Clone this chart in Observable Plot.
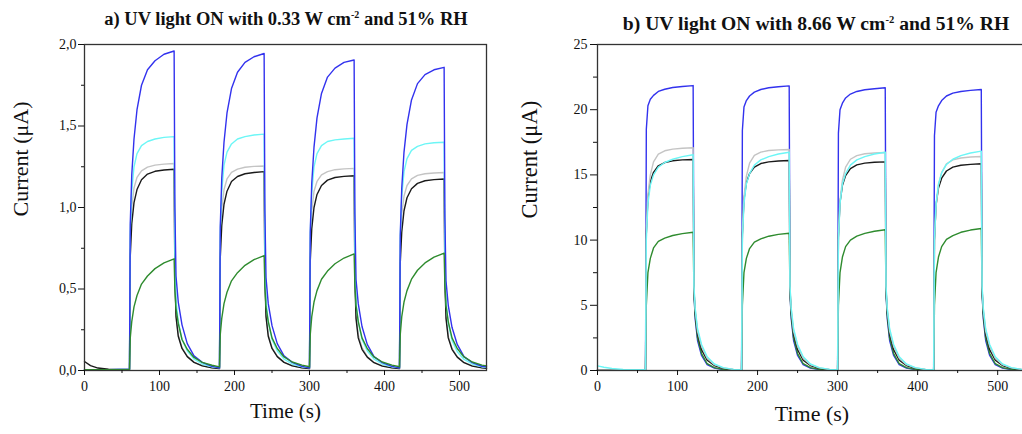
<!DOCTYPE html>
<html><head><meta charset="utf-8">
<script src="https://cdn.jsdelivr.net/npm/d3@7"></script>
<script src="https://cdn.jsdelivr.net/npm/@observablehq/plot@0.6"></script>
<style>
body{margin:0;overflow:hidden;background:#fff;}
#wrap{position:relative;width:1022px;height:434px;overflow:hidden;font-family:"Liberation Serif","Times New Roman",serif;color:#111;}
.panel{position:absolute;top:0;height:434px;}
.panel svg{max-width:none !important;}
.panel svg text{font-family:"Liberation Serif","Times New Roman",serif !important;}
.title{position:absolute;font-weight:bold;font-size:18.5px;line-height:1;white-space:nowrap;}
.sup{font-size:10px;position:relative;top:-7px;}
</style></head>
<body><div id="wrap"></div>
<script>
// time axis (s), shared by both panels
const time = [0, 8, 18, 32,
 60, 61, 63, 66, 70, 76, 84, 94, 106, 119.5, 120.5, 122, 125, 130, 137, 146, 157, 170,
 180, 181, 183, 186, 190, 196, 204, 214, 226, 239.5, 240.5, 242, 245, 250, 257, 266, 277, 290,
 300, 301, 303, 306, 310, 316, 324, 334, 346, 359.5, 360.5, 362, 365, 370, 377, 386, 397, 410,
 420, 421, 423, 426, 430, 436, 444, 454, 466, 479.5, 480.5, 482, 485, 490, 497, 506, 517, 530,
 536];

// Panel a (0.33 W cm-2), current in µA
const blueA = [0.005, 0.005, 0.005, 0.005,
 0.008, 0.9, 1.2, 1.42, 1.6, 1.75, 1.845, 1.9, 1.94, 1.96, 1.0, 0.58, 0.42, 0.28, 0.165, 0.09, 0.05, 0.025,
 0.016, 0.88, 1.18, 1.4, 1.58, 1.73, 1.83, 1.89, 1.925, 1.945, 0.98, 0.57, 0.41, 0.275, 0.165, 0.09, 0.05, 0.025,
 0.016, 0.85, 1.15, 1.37, 1.55, 1.7, 1.8, 1.855, 1.89, 1.905, 0.96, 0.56, 0.41, 0.27, 0.16, 0.085, 0.048, 0.025,
 0.016, 0.83, 1.12, 1.34, 1.51, 1.66, 1.76, 1.815, 1.845, 1.86, 0.94, 0.55, 0.4, 0.265, 0.16, 0.085, 0.048, 0.026,
 0.022];
const cyanA = [0.005, 0.005, 0.005, 0.005,
 0.008, 0.85, 1.1, 1.25, 1.33, 1.38, 1.405, 1.42, 1.43, 1.435, 0.72, 0.43, 0.3, 0.19, 0.12, 0.07, 0.04, 0.022,
 0.016, 0.85, 1.1, 1.26, 1.34, 1.39, 1.42, 1.435, 1.445, 1.45, 0.72, 0.43, 0.3, 0.19, 0.12, 0.07, 0.04, 0.022,
 0.016, 0.84, 1.09, 1.25, 1.33, 1.38, 1.405, 1.415, 1.42, 1.425, 0.7, 0.42, 0.3, 0.19, 0.12, 0.07, 0.04, 0.022,
 0.016, 0.82, 1.07, 1.22, 1.3, 1.35, 1.375, 1.39, 1.397, 1.40, 0.7, 0.42, 0.29, 0.185, 0.115, 0.068, 0.04, 0.022,
 0.02];
const grayA = [0.005, 0.005, 0.005, 0.005,
 0.006, 0.8, 1.0, 1.12, 1.185, 1.225, 1.248, 1.26, 1.266, 1.27, 0.6, 0.35, 0.22, 0.14, 0.088, 0.052, 0.03, 0.017,
 0.012, 0.79, 0.99, 1.11, 1.175, 1.215, 1.235, 1.247, 1.252, 1.255, 0.6, 0.35, 0.22, 0.14, 0.088, 0.052, 0.03, 0.017,
 0.012, 0.78, 0.98, 1.1, 1.16, 1.2, 1.22, 1.232, 1.237, 1.24, 0.59, 0.34, 0.22, 0.14, 0.086, 0.05, 0.03, 0.017,
 0.012, 0.76, 0.96, 1.07, 1.135, 1.175, 1.197, 1.207, 1.212, 1.215, 0.58, 0.34, 0.21, 0.135, 0.085, 0.05, 0.03, 0.017,
 0.014];
const blackA = [0.055, 0.03, 0.015, 0.008,
 0.006, 0.7, 0.9, 1.03, 1.11, 1.17, 1.205, 1.222, 1.23, 1.235, 0.58, 0.33, 0.21, 0.135, 0.085, 0.05, 0.028, 0.016,
 0.012, 0.69, 0.89, 1.02, 1.1, 1.16, 1.19, 1.207, 1.215, 1.22, 0.58, 0.33, 0.21, 0.135, 0.085, 0.05, 0.028, 0.016,
 0.012, 0.67, 0.87, 1.0, 1.08, 1.135, 1.168, 1.184, 1.191, 1.195, 0.57, 0.32, 0.2, 0.13, 0.082, 0.048, 0.027, 0.016,
 0.012, 0.66, 0.85, 0.98, 1.06, 1.115, 1.148, 1.164, 1.171, 1.175, 0.56, 0.32, 0.2, 0.13, 0.082, 0.048, 0.027, 0.016,
 0.013];
const greenA = [0.005, 0.005, 0.005, 0.005,
 0.006, 0.2, 0.3, 0.39, 0.46, 0.53, 0.58, 0.625, 0.66, 0.685, 0.5, 0.38, 0.29, 0.19, 0.13, 0.08, 0.05, 0.032,
 0.022, 0.22, 0.32, 0.41, 0.48, 0.55, 0.6, 0.645, 0.68, 0.705, 0.52, 0.39, 0.3, 0.2, 0.135, 0.083, 0.052, 0.033,
 0.023, 0.22, 0.33, 0.42, 0.49, 0.56, 0.61, 0.655, 0.69, 0.715, 0.53, 0.4, 0.3, 0.2, 0.135, 0.083, 0.052, 0.033,
 0.023, 0.22, 0.33, 0.42, 0.49, 0.56, 0.615, 0.66, 0.695, 0.72, 0.53, 0.4, 0.3, 0.2, 0.135, 0.083, 0.052, 0.033,
 0.028];

// Panel b (8.66 W cm-2), current in µA
const blueB = [0.05, 0.05, 0.05, 0.05,
 0.05, 18.5, 20.3, 20.8, 21.1, 21.4, 21.57, 21.7, 21.78, 21.85, 6.0, 4.0, 2.3, 1.15, 0.45, 0.18, 0.07, 0.03,
 0.03, 18.4, 20.2, 20.7, 21.05, 21.35, 21.55, 21.68, 21.76, 21.83, 6.0, 4.0, 2.3, 1.15, 0.45, 0.18, 0.07, 0.03,
 0.03, 18.2, 20.0, 20.5, 20.9, 21.2, 21.4, 21.53, 21.61, 21.68, 6.0, 4.0, 2.3, 1.15, 0.45, 0.18, 0.07, 0.03,
 0.03, 18.0, 19.8, 20.3, 20.7, 21.05, 21.27, 21.4, 21.48, 21.55, 6.0, 4.0, 2.3, 1.15, 0.45, 0.18, 0.07, 0.03,
 0.03];
const grayB = [0.05, 0.05, 0.05, 0.05,
 0.05, 11, 13.5, 15.0, 16.0, 16.6, 16.85, 16.98, 17.04, 17.08, 6.4, 4.7, 3.0, 1.85, 0.95, 0.45, 0.2, 0.08,
 0.05, 10.8, 13.3, 14.9, 15.9, 16.5, 16.75, 16.87, 16.92, 16.95, 6.4, 4.7, 3.0, 1.85, 0.95, 0.45, 0.2, 0.08,
 0.05, 10.5, 13.0, 14.6, 15.6, 16.2, 16.48, 16.62, 16.68, 16.72, 6.4, 4.7, 3.0, 1.85, 0.95, 0.45, 0.2, 0.08,
 0.05, 10.2, 12.6, 14.2, 15.2, 15.85, 16.15, 16.3, 16.37, 16.41, 6.4, 4.7, 3.0, 1.85, 0.95, 0.45, 0.2, 0.08,
 0.06];
const cyanB = [0.35, 0.25, 0.15, 0.08,
 0.06, 10, 12.8, 14.2, 15.0, 15.6, 15.95, 16.2, 16.4, 16.55, 6.5, 4.8, 3.2, 2.0, 1.05, 0.5, 0.22, 0.09,
 0.06, 10, 12.8, 14.3, 15.1, 15.75, 16.15, 16.4, 16.6, 16.74, 6.5, 4.8, 3.2, 2.0, 1.05, 0.5, 0.22, 0.09,
 0.06, 10, 12.8, 14.3, 15.1, 15.75, 16.15, 16.4, 16.6, 16.74, 6.5, 4.8, 3.2, 2.0, 1.05, 0.5, 0.22, 0.09,
 0.06, 10, 12.8, 14.3, 15.15, 15.8, 16.2, 16.48, 16.68, 16.82, 6.5, 4.8, 3.2, 2.0, 1.05, 0.5, 0.22, 0.09,
 0.07];
const blackB = [0.05, 0.05, 0.05, 0.05,
 0.05, 10.5, 13.2, 14.5, 15.2, 15.7, 15.95, 16.08, 16.15, 16.18, 6.2, 4.5, 2.8, 1.6, 0.8, 0.38, 0.16, 0.07,
 0.05, 10.4, 13.1, 14.4, 15.1, 15.6, 15.87, 16.0, 16.07, 16.1, 6.2, 4.5, 2.8, 1.6, 0.8, 0.38, 0.16, 0.07,
 0.05, 10.2, 12.9, 14.2, 14.95, 15.48, 15.77, 15.9, 15.97, 16.0, 6.2, 4.5, 2.8, 1.6, 0.8, 0.38, 0.16, 0.07,
 0.05, 10.0, 12.7, 14.0, 14.75, 15.3, 15.6, 15.74, 15.81, 15.85, 6.2, 4.5, 2.8, 1.6, 0.8, 0.38, 0.16, 0.07,
 0.05];
const greenB = [0.05, 0.05, 0.05, 0.05,
 0.05, 5.0, 7.5, 8.6, 9.4, 9.9, 10.15, 10.35, 10.5, 10.6, 6.0, 4.2, 2.5, 1.3, 0.52, 0.22, 0.09, 0.04,
 0.04, 5.0, 7.5, 8.6, 9.35, 9.85, 10.1, 10.3, 10.44, 10.53, 6.0, 4.2, 2.5, 1.3, 0.52, 0.22, 0.09, 0.04,
 0.04, 5.0, 7.5, 8.7, 9.5, 10.0, 10.3, 10.52, 10.68, 10.79, 6.0, 4.2, 2.5, 1.3, 0.52, 0.22, 0.09, 0.04,
 0.04, 5.0, 7.5, 8.7, 9.5, 10.05, 10.35, 10.6, 10.77, 10.89, 6.0, 4.2, 2.5, 1.3, 0.52, 0.22, 0.09, 0.04,
 0.04];

const xTicks = [0, 100, 200, 300, 400, 500];
const xMinor = [50, 150, 250, 350, 450];
const yTicksA = [0, 0.5, 1, 1.5, 2];
const yMinorA = [0.25, 0.75, 1.25, 1.75];
const yTicksB = [0, 5, 10, 15, 20, 25];
const yMinorB = [2.5, 7.5, 12.5, 17.5, 22.5];

const colors = {blue: "#3232ee", cyan: "#6cf6f6", gray: "#c4c4c4", black: "#1a1a1a", green: "#2e8b2e"};

function rows(vals) { return time.map((t, i) => ({t, v: vals[i]})); }
function line(vals, c) { return Plot.line(rows(vals), {x: "t", y: "v", stroke: colors[c], strokeWidth: 1.4}); }

const font = "Liberation Serif";

const plotA = Plot.plot({
  width: 511, height: 434,
  marginLeft: 84, marginRight: 25, marginTop: 44, marginBottom: 64,
  style: {fontFamily: "'Liberation Serif', serif", fontSize: "14px", color: "#111", background: "transparent"},
  x: {domain: [0, 536]},
  y: {domain: [0, 2]},
  marks: [
    line(grayA, "gray"), line(blackA, "black"), line(cyanA, "cyan"), line(blueA, "blue"), line(greenA, "green"),
    Plot.frame({stroke: "#333", strokeWidth: 1.3}),
    Plot.axisY({ticks: yTicksA, tickSize: 6, tickPadding: 2, tickFormat: d => d.toFixed(1).replace(".", ","), label: null, fontSize: 14, fontFamily: font}),
    Plot.axisY({ticks: yMinorA, tickSize: 3, tickFormat: () => "", label: null}),
    Plot.axisX({ticks: xTicks, tickSize: 5, tickPadding: 6, label: null, fontSize: 14, fontFamily: font}),
    Plot.axisX({ticks: xMinor, tickSize: 3, tickFormat: () => "", label: null}),
    Plot.text(["Current (μA)"], {frameAnchor: "left", rotate: -90, dx: -64, dy: 9, fontSize: 22, fontFamily: font}),
    Plot.text(["Time (s)"], {frameAnchor: "bottom", dy: 47, fontSize: 21, fontFamily: font})
  ]
});

const plotB = Plot.plot({
  width: 529, height: 434,
  marginLeft: 86, marginRight: 14, marginTop: 44, marginBottom: 64,
  style: {fontFamily: "'Liberation Serif', serif", fontSize: "14px", color: "#111", background: "transparent"},
  x: {domain: [0, 536]},
  y: {domain: [0, 25]},
  marks: [
    line(blueB, "blue"), line(greenB, "green"), line(blackB, "black"), line(grayB, "gray"), line(cyanB, "cyan"),
    Plot.frame({stroke: "#333", strokeWidth: 1.3}),
    Plot.axisY({ticks: yTicksB, tickSize: 7, tickPadding: 3, label: null, fontSize: 14, fontFamily: font}),
    Plot.axisY({ticks: yMinorB, tickSize: 4, tickFormat: () => "", label: null}),
    Plot.axisX({ticks: xTicks, tickSize: 5, tickPadding: 6, label: null, fontSize: 14, fontFamily: font}),
    Plot.axisX({ticks: xMinor, tickSize: 3, tickFormat: () => "", label: null}),
    Plot.text(["Current (μA)"], {frameAnchor: "left", rotate: -90, dx: -67.5, dy: 11, fontSize: 22.5, fontFamily: font}),
    Plot.text(["Time (s)"], {frameAnchor: "bottom", dy: 50.5, fontSize: 22, fontFamily: font})
  ]
});

const wrap = document.getElementById("wrap");
const pa = document.createElement("div"); pa.className = "panel"; pa.style.left = "0px"; pa.style.width = "511px"; pa.appendChild(plotA);
const pb = document.createElement("div"); pb.className = "panel"; pb.style.left = "511px"; pb.style.width = "529px"; pb.appendChild(plotB);
wrap.appendChild(pa); wrap.appendChild(pb);

const tA = document.createElement("div"); tA.className = "title";
tA.innerHTML = 'a) UV light ON with 0.33 W cm<span class="sup">-2</span> and 51% RH';
tA.style.left = "286px"; tA.style.top = "10px"; tA.style.transform = "translateX(-50%)";
const tB = document.createElement("div"); tB.className = "title";
tB.innerHTML = 'b) UV light ON with 8.66 W cm<span class="sup">-2</span> and 51% RH';
tB.style.left = "816px"; tB.style.top = "15px"; tB.style.transform = "translateX(-50%) scaleX(1.06)";
wrap.appendChild(tA); wrap.appendChild(tB);
</script>
</body></html>
